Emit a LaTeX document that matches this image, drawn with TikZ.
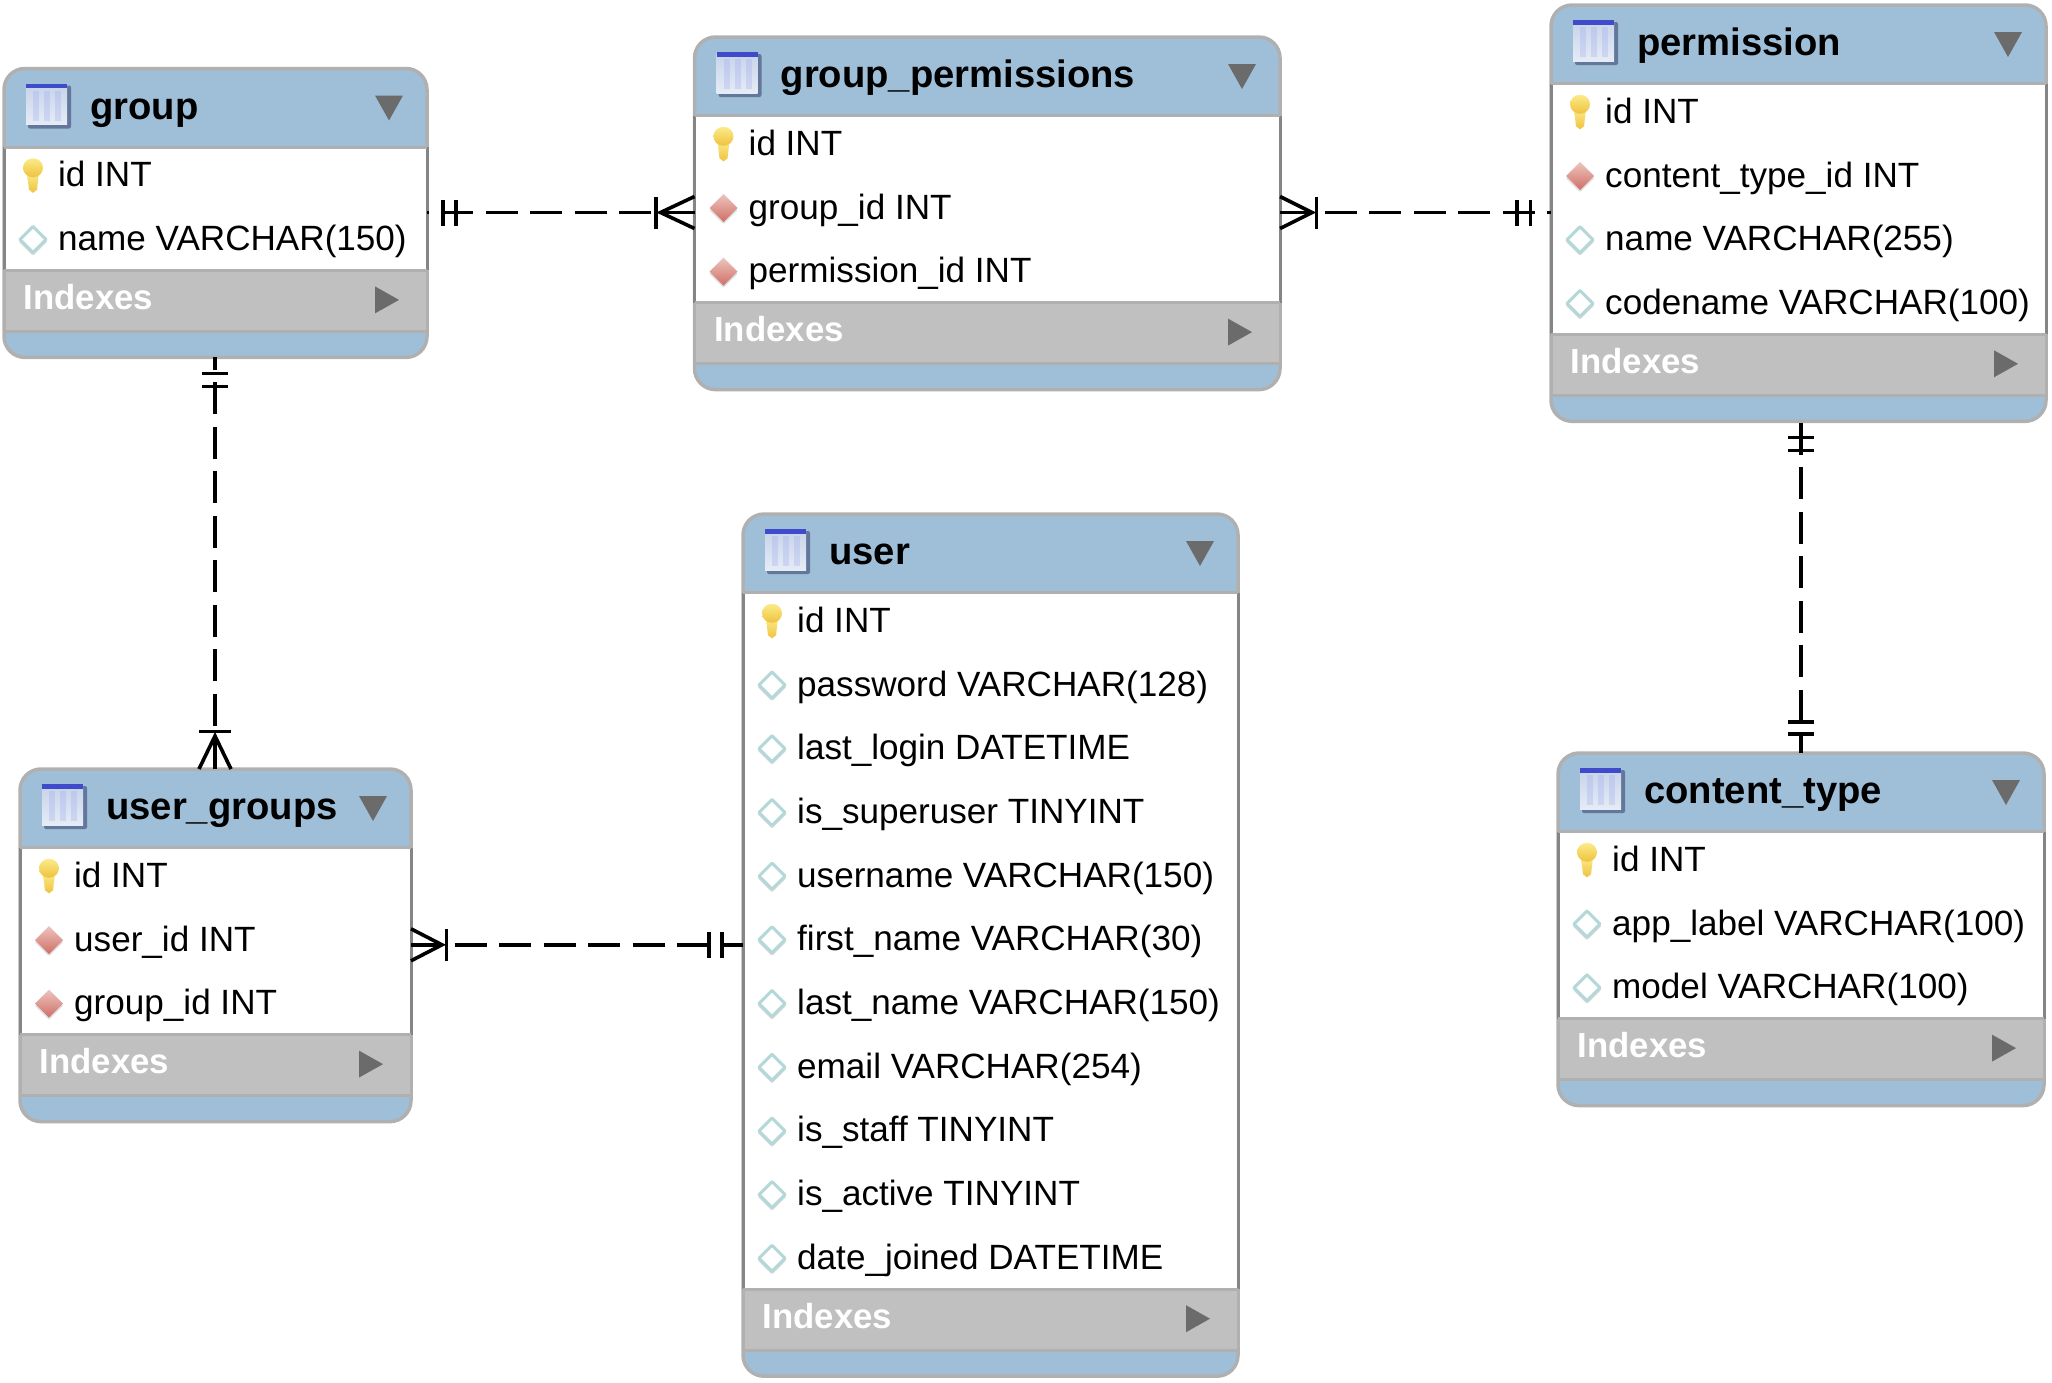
\documentclass[tikz,border=0pt]{standalone}
\usepackage{fontspec}
\setmainfont{Liberation Sans}
\definecolor{hdrblue}{HTML}{9FBFD9}
\definecolor{edgegray}{HTML}{B0B0B0}
\definecolor{sidegray}{HTML}{858585}
\definecolor{idxgray}{HTML}{C0C0C0}
\definecolor{arrowgray}{HTML}{6B6B6B}
\definecolor{keytop}{HTML}{FBEB8A}
\definecolor{keybot}{HTML}{EFC23E}
\definecolor{fktop}{HTML}{EDC4BE}
\definecolor{fkbot}{HTML}{CF6F66}
\definecolor{opendge}{HTML}{B4D8D8}
\definecolor{icotop}{HTML}{C6D3EA}
\definecolor{icobot}{HTML}{E6ECF6}
\definecolor{icoshadow}{HTML}{62779A}
\definecolor{icostrip}{HTML}{3E4BCB}
\tikzset{
  x=1pt,y=-1pt,
  tablebox/.style={draw=edgegray,fill=hdrblue,line width=3.5pt,rounded corners=21pt,inner sep=0pt,outer sep=0pt,anchor=north west},
  rowtext/.style={anchor=base west,inner sep=0pt,font=\fontsize{35.1}{40}\selectfont,text=black},
  titletext/.style={anchor=base west,inner sep=0pt,font=\fontsize{38.2}{42}\selectfont\bfseries,text=black},
  idxtext/.style={anchor=base west,inner sep=0pt,font=\fontsize{34.8}{40}\selectfont\bfseries,text=white},
  sideline/.style={draw=sidegray,line width=3pt},
  edgeline/.style={draw=edgegray,line width=3pt},
  relline/.style={draw=black,line width=3.6pt,dash pattern=on 32pt off 12.5pt},
  markline/.style={draw=black,line width=3.6pt},
  pics/onebar/.style={code={\draw[markline] (#1,-13) -- (#1,13);}},
  pics/crowfoot/.style={code={
    \draw[markline] (0,-16) -- (#1,0) -- (0,16);
    \draw[markline] (#1+4.5,-16) -- (#1+4.5,16);}},
}
% row icons
\newcommand{\iconkey}{%
  \shade[top color=keytop,bottom color=keybot] (-6,-3) -- (6,-3) -- (4,14) -- (0,17) -- (-4,14) -- cycle;
  \shade[top color=keytop,bottom color=keybot] (0,-8) ellipse [x radius=10,y radius=9.5];}
\newcommand{\iconopen}{%
  \draw[draw=black!14,line width=2.5pt,line join=round] (-13,1.5) -- (0,14.5) -- (13,1.5);
  \draw[draw=opendge,fill=white,line width=3pt,line join=round] (-13,0) -- (0,-13) -- (13,0) -- (0,13) -- cycle;}
\newcommand{\iconfk}{%
  \draw[draw=black!12,line width=2.5pt,line join=round] (-13,1.5) -- (0,14.5) -- (13,1.5);
  \shade[top color=fktop,bottom color=fkbot] (-14,0) -- (0,-14) -- (14,0) -- (0,14) -- cycle;}
\newcommand{\ertable}[7]{%
  \pgfmathsetmacro\tw{#3-#2}
  \pgfmathsetmacro\hb{#4+78.5}
  \pgfmathsetmacro\re{\hb+#5*63.7-4}
  \pgfmathsetmacro\ie{\re+61}
  \pgfmathsetmacro\tb{\ie+26-#4}
  \pgfmathsetmacro\tx{#2+86}
  \pgfmathsetmacro\ty{#4+50.5}
  \pgfmathsetmacro\ix{#2+19.5}
  \pgfmathsetmacro\iy{\re+39}
  \node[tablebox,minimum width=\tw pt,minimum height=\tb pt] (#1) at (#2,#4) {};
  \fill[white] (#2,\hb) rectangle (#3,\re);
  \fill[idxgray] (#2,\re) rectangle (#3,\ie);
  \draw[sideline] (#2,\hb) -- (#2,\re);
  \draw[sideline] (#3,\hb) -- (#3,\re);
  \draw[edgeline] (#2,\hb) -- (#3,\hb);
  \draw[edgeline] (#2,\re) -- (#3,\re);
  \draw[edgeline] (#2,\ie) -- (#3,\ie);
  \draw[edgeline] (#2,\re) -- (#2,\ie);
  \draw[edgeline] (#3,\re) -- (#3,\ie);
  % table icon
  \begin{scope}[shift={(#2+22,#4+15)}]
    \fill[icoshadow,rounded corners=2pt] (2,2) rectangle (45,45);
    \shade[top color=icotop,bottom color=icobot] (0,1) rectangle (41,41);
    \fill[icotop!80!blue,opacity=.3] (7,7) rectangle (13,37);
    \fill[icotop!80!blue,opacity=.3] (18,7) rectangle (24,37);
    \fill[icotop!80!blue,opacity=.3] (29,7) rectangle (35,37);
    \fill[icostrip] (0,0) rectangle (41,4.5);
  \end{scope}
  \node[titletext] (#1-title) at (\tx,\ty) {#6};
  \fill[arrowgray] (#3-52,#4+27) -- (#3-24,#4+27) -- (#3-38,#4+52) -- cycle;
  \foreach \kind/\label [count=\i] in {#7} {
    \pgfmathsetmacro\by{#4+118.3+(\i-1)*63.7}
    \begin{scope}[shift={(#2+29,\by-11)}]
      \csname icon\kind\endcsname
    \end{scope}
    \node[rowtext] (#1-r\i) at (#2+54,\by) {\label};
  }
  \node[idxtext] (#1-idx) at (\ix,\iy) {Indexes};
  \fill[arrowgray] (#3-52,\re+16) -- (#3-28,\re+29.5) -- (#3-52,\re+43) -- cycle;
}
\begin{document}
\begin{tikzpicture}
\useasboundingbox (0,0) rectangle (2052,1382);
\ertable{group}{4}{427}{68.5}{2}{group}{key/id INT,open/name VARCHAR(150)}
\ertable{gp}{694.5}{1280}{37}{3}{group\_permissions}{key/id INT,fk/group\_id INT,fk/permission\_id INT}
\ertable{perm}{1551}{2046}{5}{4}{permission}{key/id INT,fk/content\_type\_id INT,open/name VARCHAR(255),open/codename VARCHAR(100)}
\ertable{user}{743}{1238}{514}{11}{user}{key/id INT,open/password VARCHAR(128),open/last\_login DATETIME,open/is\_superuser TINYINT,open/username VARCHAR(150),open/first\_name VARCHAR(30),open/last\_name VARCHAR(150),open/email VARCHAR(254),open/is\_staff TINYINT,open/is\_active TINYINT,open/date\_joined DATETIME}
\ertable{ug}{20}{411}{769}{3}{user\_groups}{key/id INT,fk/user\_id INT,fk/group\_id INT}
\ertable{ct}{1558}{2044}{753}{3}{content\_type}{key/id INT,open/app\_label VARCHAR(100),open/model VARCHAR(100)}
% connector reference lines
\coordinate (ya) at (0,212.5);
\coordinate (yb) at (0,944.8);
\coordinate (xa) at (215,0);
\coordinate (xb) at (1800.7,0);
\coordinate (gE) at (group.east |- ya);
\coordinate (gpW) at (gp.west |- ya);
\coordinate (gpE) at (gp.east |- ya);
\coordinate (pW) at (perm.west |- ya);
\coordinate (ugE) at (ug.east |- yb);
\coordinate (uW) at (user.west |- yb);
\coordinate (gS) at (group.south -| xa);
\coordinate (ugN) at (ug.north -| xa);
\coordinate (pS) at (perm.south -| xb);
\coordinate (ctN) at (ct.north -| xb);
% group -- group_permissions
\draw[relline,dash phase=30.5pt] (gE) -- (gpW);
\pic[rotate=0] at (gE) {onebar=15.7};
\pic[rotate=0] at (gE) {onebar=28.7};
\pic[rotate=180] at (gpW) {crowfoot=34};
% group_permissions -- permission
\draw[relline] (gpE) -- (pW);
\pic[rotate=0] at (gpE) {crowfoot=32};
\pic[rotate=180] at (pW) {onebar=34};
\pic[rotate=180] at (pW) {onebar=20.5};
% user_groups -- user
\draw[relline,dash phase=1pt] (ugE) -- (uW);
\pic[rotate=0] at (ugE) {crowfoot=31};
\pic[rotate=180] at (uW) {onebar=34};
\pic[rotate=180] at (uW) {onebar=21};
% group -- user_groups
\draw[relline,dash phase=19.7pt] (gS) -- (ugN);
\pic[rotate=-90] at (gS) {onebar=16};
\pic[rotate=-90] at (gS) {onebar=29};
\pic[rotate=90] at (ugN) {crowfoot=33};
% permission -- content_type
\draw[relline,dash phase=13pt] (ctN) -- (pS);
\pic[rotate=-90] at (pS) {onebar=16};
\pic[rotate=-90] at (pS) {onebar=29};
\pic[rotate=90] at (ctN) {onebar=19};
\pic[rotate=90] at (ctN) {onebar=31};
\end{tikzpicture}
\end{document}
